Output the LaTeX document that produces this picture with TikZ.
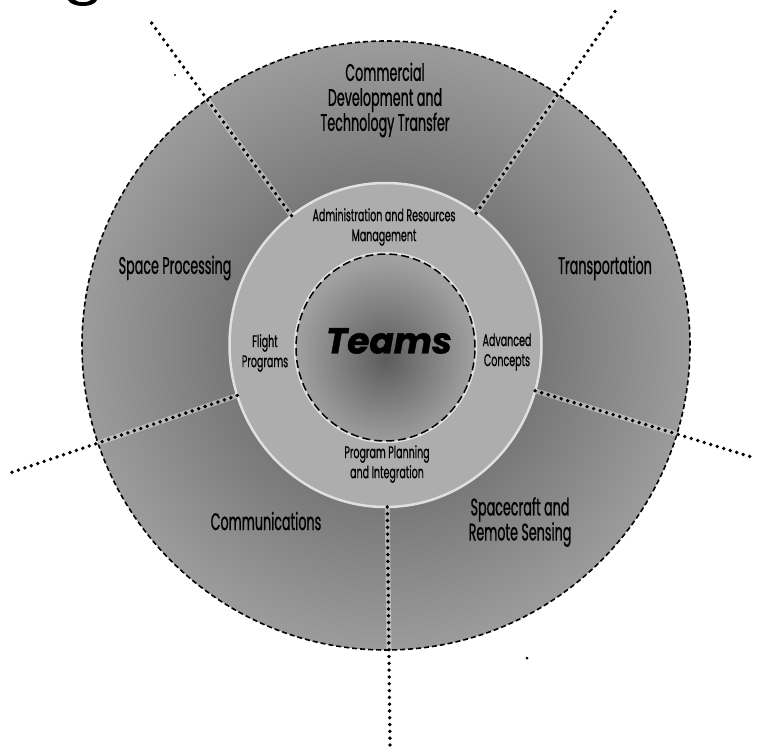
\documentclass[tikz,border=0pt]{standalone}
\usepackage{fontspec}
\usetikzlibrary{shapes.geometric}
\newfontfamily\condfont{Poppins}[FakeStretch=0.53, FakeBold=0.8]
\newfontfamily\smallfont{Poppins}[FakeStretch=0.56, FakeBold=0.7]
\newfontfamily\teamsfont{Poppins}[FakeBold=1.3]
\definecolor{outerA}{gray}{0.47}
\definecolor{outerB}{gray}{0.61}
\definecolor{midgray}{gray}{0.68}
\definecolor{innerA}{gray}{0.36}
\definecolor{innerB}{gray}{0.63}
\definecolor{glow}{gray}{0.88}
\pgfdeclareradialshading{outershade}{\pgfpoint{0bp}{0bp}}{color(0bp)=(outerA); color(13bp)=(outerA); color(25bp)=(outerB); color(50bp)=(outerB)}
\pgfdeclareradialshading{innershade}{\pgfpoint{0bp}{-3bp}}{color(0bp)=(innerA); color(25bp)=(innerB); color(50bp)=(innerB)}
\begin{document}
\begin{tikzpicture}[x=1pt,y=-1pt,
  lbl/.style={font=\condfont\fontsize{24}{25}\selectfont, align=center, inner sep=0pt},
  small/.style={font=\smallfont\fontsize{17}{20}\selectfont, align=center, inner sep=0pt},
  teams/.style={font=\teamsfont\bfseries\itshape\fontsize{36}{40}\selectfont, inner sep=0pt},
  divider/.style={line width=3.8pt, line cap=round, dash pattern=on 0pt off 6.8pt},
  halo/.style={white, opacity=0.4, line width=5pt},
  ring/.style={ellipse, inner sep=0pt, outer sep=0pt}]
\fill[white] (0,0) rectangle (758,747);
\useasboundingbox (0,0) rectangle (758,747);
% fragment of a title letter at the top edge
\fill (68,0) .. controls (72,8) and (94,8) .. (97,0) -- (91,0) .. controls (88,3) and (78,3) .. (75,0) -- cycle;
% specks
\fill (175,75) circle[radius=1.2pt];
\fill (527,658) circle[radius=1.5pt];
% rings
\node[ring, minimum width=608, minimum height=609, shading=outershade,
      draw=black, line width=1.6pt, dash pattern=on 5pt off 3pt] (outer) at (386,345.5) {};
\node[ring, minimum width=312, minimum height=324, fill=midgray,
      draw=glow, line width=2.5pt] (mid) at (385.5,345) {};
\node[ring, minimum width=179, minimum height=187, shading=innershade,
      draw=black, line width=1.5pt, dash pattern=on 8pt off 4pt,
      preaction={draw=glow, solid, line width=4.5pt}] (inner) at (385.5,347.5) {};
% divider ends
\coordinate (e1) at (148,18);
\coordinate (e2) at (616,10);
\coordinate (e3) at (10,473);
\coordinate (e4) at (755,458);
\coordinate (e5) at (390,745);
\begin{scope}
  \clip (386,345.5) circle[radius=304pt];
  \foreach \e in {e1,e2,e3,e4,e5} \draw[halo] (mid) -- (\e);
\end{scope}
\foreach \e in {e1,e2,e3,e4,e5} \draw[divider] (mid) -- (\e);
% labels
\node[lbl] (commercial) at (385,100) {Commercial\\Development and\\Technology Transfer};
\node[lbl] (space) at (175,268) {Space Processing};
\node[lbl] (transport) at (605,268) {Transportation};
\node[lbl] (comm) at (266,521) {Communications};
\node[lbl] (spacecraft) at (520,522) {Spacecraft and\\Remote Sensing};
\node[small] (admin) at (384,227) {Administration and Resources\\Management};
\node[small] (flight) at (265,353) {Flight\\Programs};
\node[small] (advanced) at (507,352) {Advanced\\Concepts};
\node[small] (program) at (387,464) {Program Planning\\and Integration};
\node[teams] (teams) at (389,341) {Teams};
\end{tikzpicture}
\end{document}
